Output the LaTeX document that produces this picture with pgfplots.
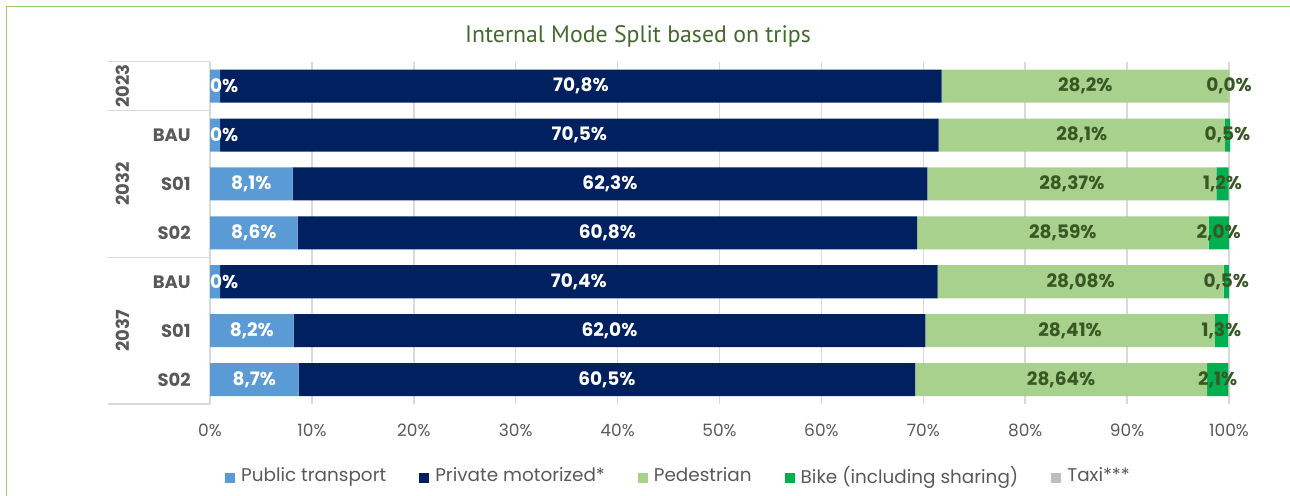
\documentclass[border=0pt]{standalone}
\usepackage{fontspec}
\setmainfont{Poppins}
\newfontfamily\titlefont{PT Sans}
\usepackage{pgfplots}
\pgfplotsset{compat=1.18}

\definecolor{ptBlue}{HTML}{5B9BD5}
\definecolor{privNavy}{HTML}{002060}
\definecolor{pedGreen}{HTML}{A9D18E}
\definecolor{bikeGreen}{HTML}{00B050}
\definecolor{taxiGray}{HTML}{BFBFBF}
\definecolor{darkLabel}{HTML}{385723}
\definecolor{titleGreen}{HTML}{44692D}
\definecolor{textGray}{HTML}{595959}
\definecolor{gridGray}{HTML}{D9D9D9}
\definecolor{frameGreen}{HTML}{92CC6C}

% label of the thin public transport bars, of which only "0%" shows
\protected\def\cutlabel{\makebox[0pt][l]{\hspace{-2.5pt}0\%}}

\pgfplotsset{
    sqleg/.style={legend image code/.code={\fill[##1,draw=none] (0pt,-3.5pt) rectangle (5pt,1.5pt);}},
}

\begin{document}
\begin{tikzpicture}
\path[use as bounding box] (0pt,0pt) rectangle (645pt,248pt);
\draw[frameGreen, line width=0.75pt] (3.25pt,-5pt) -- (3.25pt,244.75pt) -- (650pt,244.75pt);
\node[font=\titlefont\fontsize{11.9}{13}\selectfont, text=titleGreen] at (319pt,230pt)
    {Internal Mode Split based on trips};

\begin{axis}[
    at={(105pt,46pt)}, anchor=south west,
    scale only axis, width=509.5pt, height=171.15pt,
    xbar stacked, bar width=16.5pt,
    xmin=0, xmax=100, ymin=0.5, ymax=7.5, y dir=reverse,
    clip=false,
    axis line style={draw=none},
    major tick length=0pt,
    xtick={0,10,...,100},
    xticklabel={\pgfmathprintnumber{\tick}\%},
    /pgf/number format/assume math mode=true,
    xticklabel style={anchor=center, yshift=-13pt, text=textGray,
        font=\fontsize{8.5}{10}\selectfont},
    ytick={1,...,7},
    yticklabels={,BAU,S01,S02,BAU,S01,S02},
    yticklabel style={anchor=east, inner sep=0pt, xshift=-9.5pt, text=textGray,
        font=\bfseries\fontsize{9}{10}\selectfont},
    xmajorgrids,
    major grid style={gridGray, line width=0.75pt},
    point meta=explicit symbolic,
    nodes near coords,
    every node near coord/.append style={anchor=center, inner sep=0pt,
        font=\bfseries\fontsize{9.25}{10}\selectfont},
    legend style={draw=none, fill=none, at={(0.4588,-0.2103)}, anchor=center,
        legend columns=5, text=textGray, font=\fontsize{9.2}{11}\selectfont,
        nodes={inner sep=0pt},
        /tikz/every even column/.append style={column sep=16.5pt},
        /tikz/every odd column/.append style={column sep=3pt}},
]
\addplot[fill=ptBlue, draw=none, sqleg, every node near coord/.append style={text=white}]
    coordinates {(1.0,1) [\cutlabel] (1.0,2) [\cutlabel] (8.1,3) [8,1\%] (8.6,4) [8,6\%]
                 (1.0,5) [\cutlabel] (8.2,6) [8,2\%] (8.7,7) [8,7\%]};
\addlegendentry{Public transport}
\addplot[fill=privNavy, draw=none, sqleg, every node near coord/.append style={text=white}]
    coordinates {(70.8,1) [70,8\%] (70.5,2) [70,5\%] (62.3,3) [62,3\%] (60.8,4) [60,8\%]
                 (70.4,5) [70,4\%] (62.0,6) [62,0\%] (60.5,7) [60,5\%]};
\addlegendentry{Private motorized*}
\addplot[fill=pedGreen, draw=none, sqleg, every node near coord/.append style={text=darkLabel}]
    coordinates {(28.2,1) [28,2\%] (28.1,2) [28,1\%] (28.37,3) [28,37\%] (28.59,4) [28,59\%]
                 (28.08,5) [28,08\%] (28.41,6) [28,41\%] (28.64,7) [28,64\%]};
\addlegendentry{Pedestrian}
\addplot[fill=bikeGreen, draw=none, sqleg, every node near coord/.append style={text=darkLabel}]
    coordinates {(0.001,1) [0,0\%] (0.5,2) [0,5\%] (1.2,3) [1,2\%] (2.0,4) [2,0\%]
                 (0.5,5) [0,5\%] (1.3,6) [1,3\%] (2.1,7) [2,1\%]};
\addlegendentry{Bike (including sharing)}
\addplot[fill=taxiGray, draw=none, sqleg]
    coordinates {(0,1) [] (0,2) [] (0,3) [] (0,4) [] (0,5) [] (0,6) [] (0,7) []};
\addlegendentry{Taxi***}

% category frame on the left
\draw[gridGray, line width=0.75pt] ([xshift=-51pt]axis cs:0,0.5) -- (axis cs:0,0.5);
\draw[gridGray, line width=0.75pt] ([xshift=-51pt]axis cs:0,1.5) -- (axis cs:0,1.5);
\draw[gridGray, line width=0.75pt] ([xshift=-51pt]axis cs:0,4.5) -- (axis cs:0,4.5);
\draw[gridGray, line width=0.75pt] ([xshift=-51pt]axis cs:0,7.5) -- (axis cs:0,7.5);
\draw[gridGray, line width=0.75pt] (axis cs:0,0.5) -- (axis cs:0,7.5);
\node[rotate=90, text=textGray, font=\bfseries\fontsize{9}{10}\selectfont]
    at ([xshift=-43.5pt]axis cs:0,1) {2023};
\node[rotate=90, text=textGray, font=\bfseries\fontsize{9}{10}\selectfont]
    at ([xshift=-43.5pt]axis cs:0,3) {2032};
\node[rotate=90, text=textGray, font=\bfseries\fontsize{9}{10}\selectfont]
    at ([xshift=-43.5pt]axis cs:0,6) {2037};
\end{axis}
\end{tikzpicture}
\end{document}
